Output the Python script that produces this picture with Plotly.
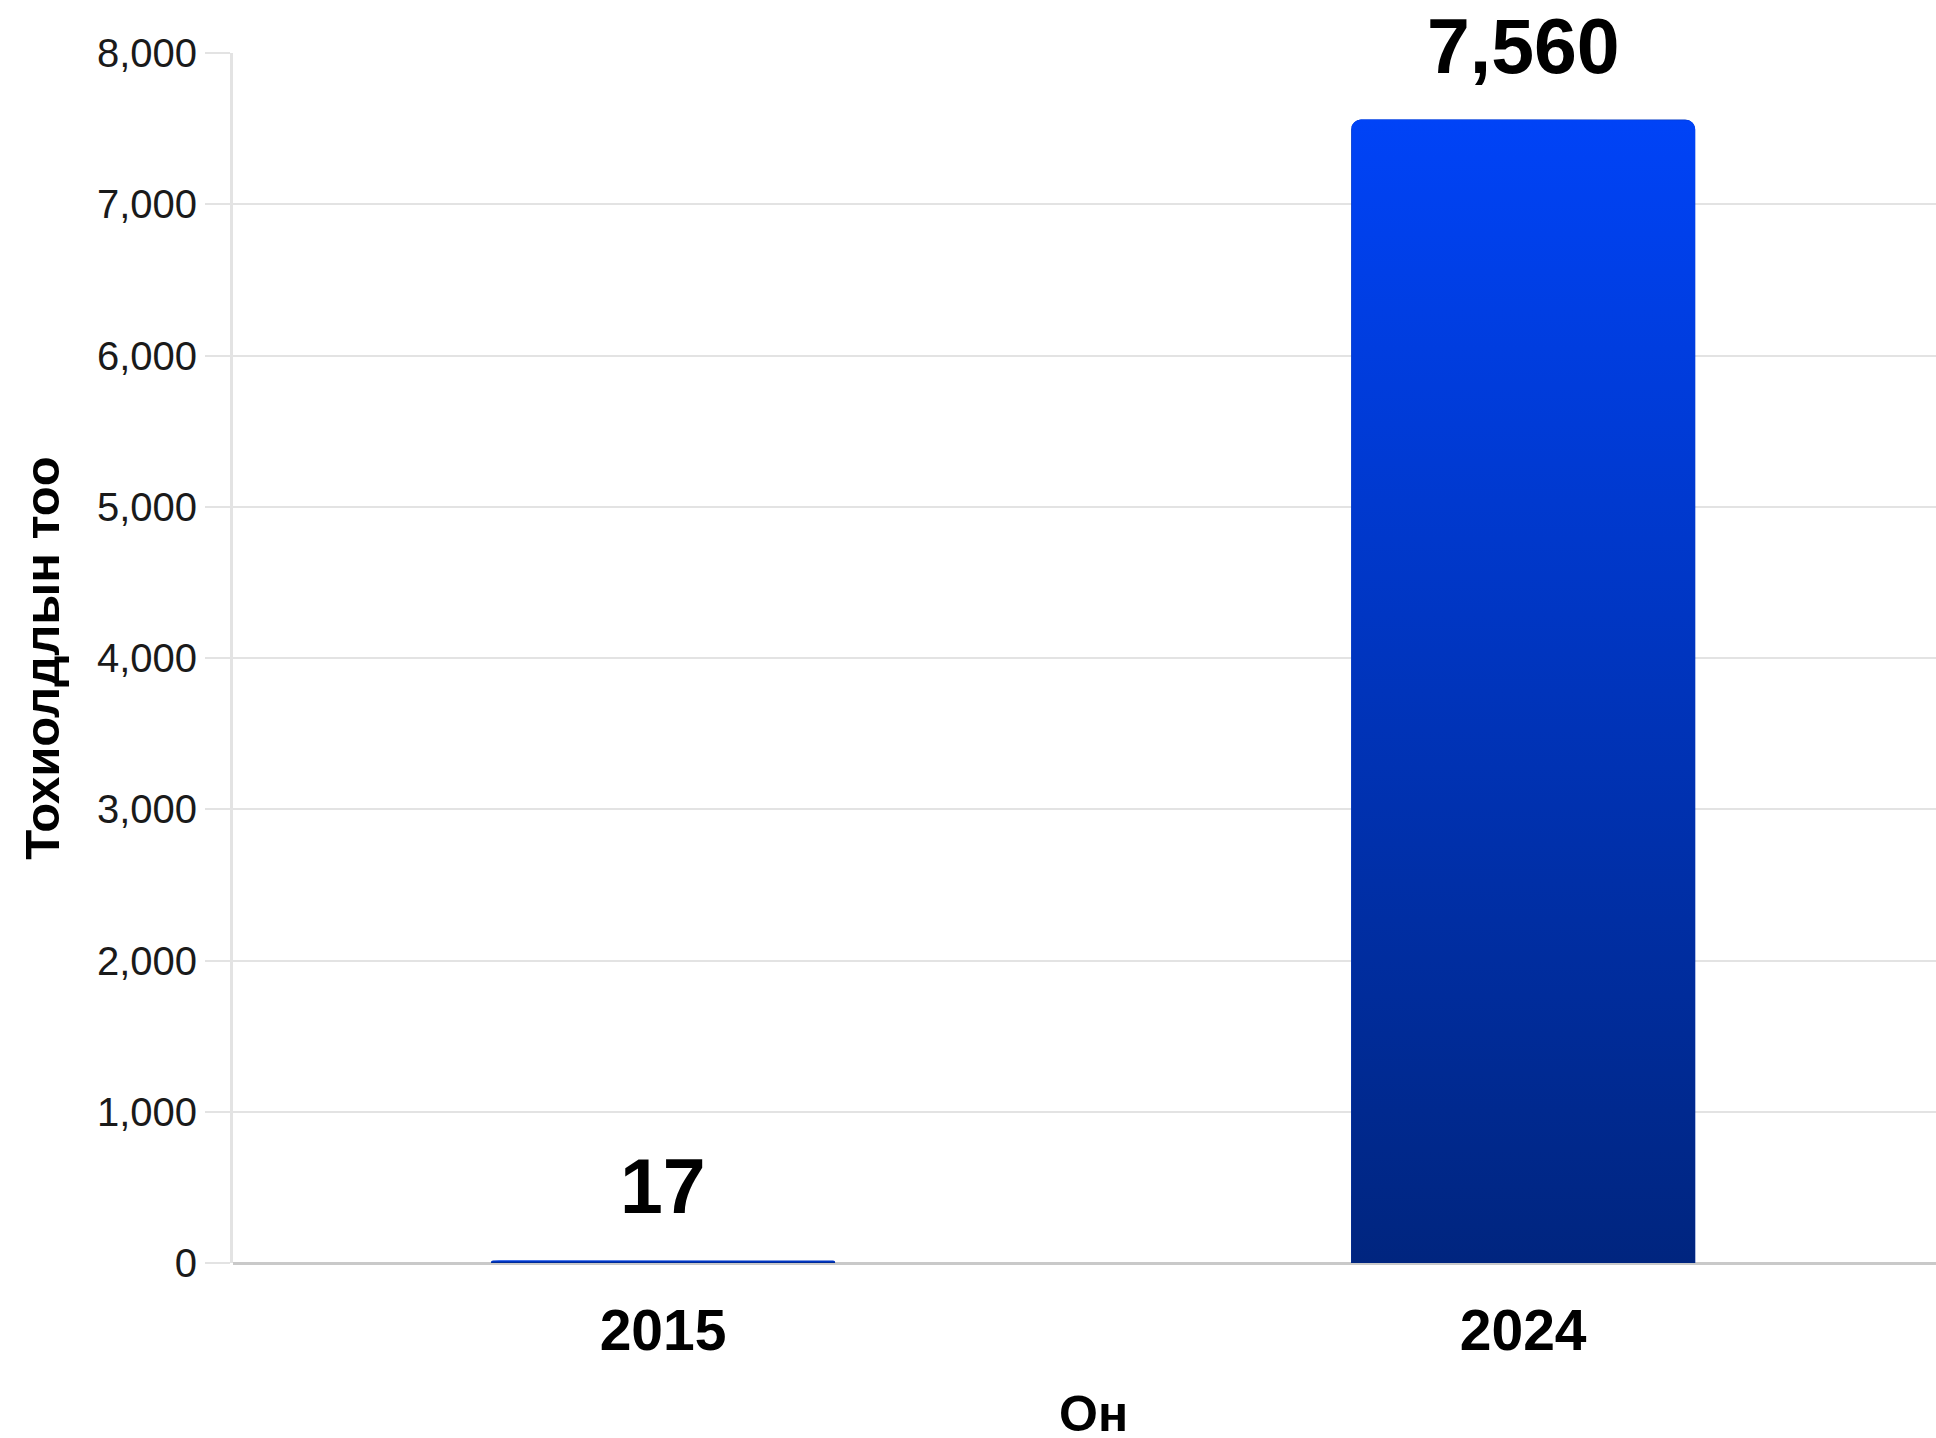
import numpy as np
import plotly.graph_objects as go

# Case counts by year
years = ["2015", "2024"]
cases = [17, 7560]

y_ticks = [0, 1000, 2000, 3000, 4000, 5000, 6000, 7000, 8000]
y_title = "Тохиолдлын тоо"
x_title = "Он"

FONT = "Liberation Sans, Arial, sans-serif"
TOP_BLUE = "#0043f7"
BOTTOM_BLUE = "#00257f"
BAR_WIDTH = 0.4

positions = list(range(len(years)))

fig = go.Figure()

# Base bars, with rounded top corners
fig.add_trace(go.Bar(
    x=positions, y=cases, width=BAR_WIDTH,
    marker=dict(color="#0036c4", line=dict(width=0), cornerradius=10),
    hoverinfo="x+y", showlegend=False,
))

# Vertical gradient fill laid over each bar, same outline as the bar
def bar_outline(center, value, rx=0.0115, ry=66.0, n=10):
    ry = min(ry, value / 2.0)
    left, right = center - BAR_WIDTH / 2, center + BAR_WIDTH / 2
    t = np.linspace(0, np.pi / 2, n)
    tl_x = left + rx - rx * np.cos(t)
    tl_y = value - ry + ry * np.sin(t)
    tr_x = right - rx + rx * np.sin(t)
    tr_y = value - ry + ry * np.cos(t)
    xs = np.concatenate([[left], tl_x, tr_x, [right, left]])
    ys = np.concatenate([[0], tl_y, tr_y, [0, 0]])
    return xs, ys

for pos, val in zip(positions, cases):
    xs, ys = bar_outline(pos, val)
    fig.add_trace(go.Scatter(
        x=xs, y=ys, mode="lines", fill="toself",
        line=dict(width=0, color=TOP_BLUE),
        fillgradient=dict(
            type="vertical",
            colorscale=[[0, BOTTOM_BLUE], [1, TOP_BLUE]],
            start=0, stop=val,
        ),
        hoverinfo="skip", showlegend=False,
    ))

# Value labels above bars
for pos, val in zip(positions, cases):
    fig.add_annotation(
        x=pos, y=val, text=f"{val:,}", showarrow=False,
        xanchor="center", yanchor="bottom", yshift=29,
        font=dict(family=FONT, size=77, color="#000000", weight="bold"),
    )

# X axis title, centred between the categories
fig.add_annotation(
    x=sum(positions) / len(positions), xref="x",
    y=0, yref="paper", yanchor="top", yshift=-121,
    text=x_title, showarrow=False,
    font=dict(family=FONT, size=50, color="#000000", weight="bold"),
)

fig.update_layout(
    width=1936, height=1438,
    margin=dict(l=233, r=0, t=53, b=175),
    paper_bgcolor="white", plot_bgcolor="white",
    font=dict(family=FONT, color="#1a1a1a"),
    showlegend=False,
    xaxis=dict(
        range=[-0.5, 1.48],
        tickvals=positions, ticktext=years,
        tickfont=dict(family=FONT, size=57, color="#000000", weight="bold"),
        showgrid=False, zeroline=False, showline=False,
        ticks="", ticklabelstandoff=29,
        fixedrange=True,
    ),
    yaxis=dict(
        range=[0, 8000],
        tickvals=y_ticks, tickformat=",d",
        tickfont=dict(family=FONT, size=40, color="#1a1a1a"),
        showgrid=True, gridcolor="#e3e3e3", gridwidth=2,
        zeroline=True, zerolinecolor="#c9c9c9", zerolinewidth=3,
        showline=True, linecolor="#e3e3e3", linewidth=3,
        ticks="outside", ticklen=25, tickcolor="#e3e3e3", tickwidth=2,
        ticklabelstandoff=0,
        title=dict(text=y_title, standoff=22,
                   font=dict(family=FONT, size=49, color="#000000", weight="bold")),
        fixedrange=True,
    ),
)

fig.write_html("out.html")
